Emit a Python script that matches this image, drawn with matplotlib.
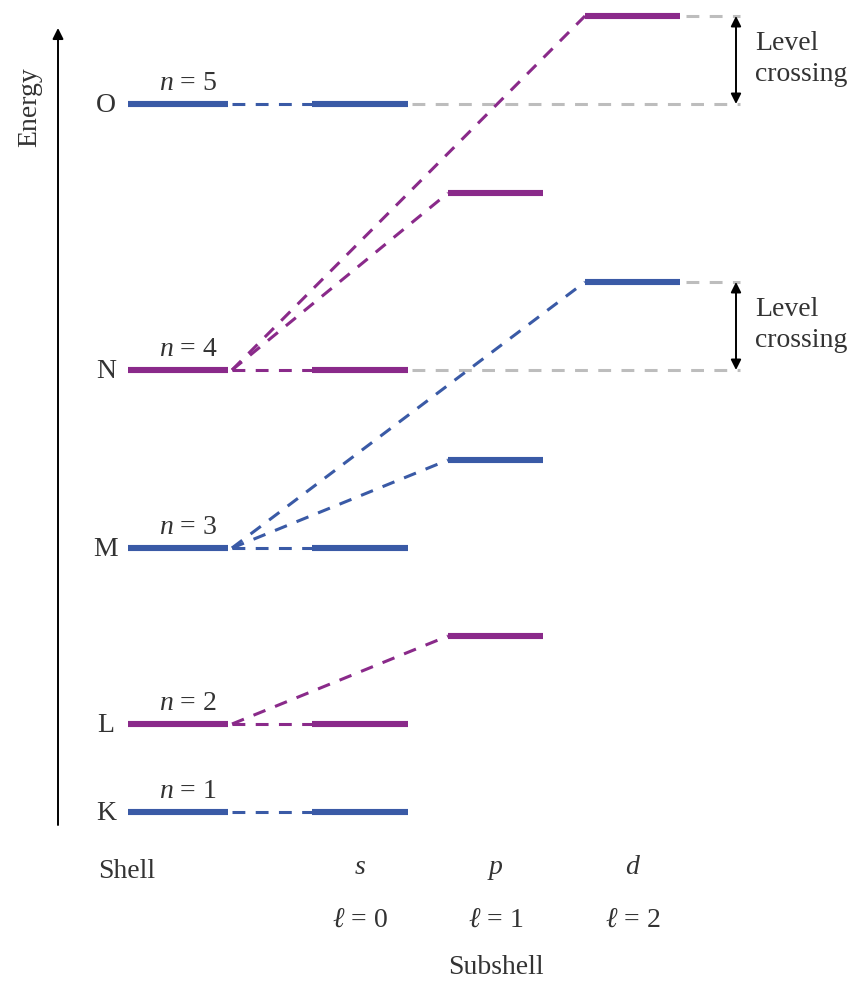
import matplotlib
matplotlib.use("Agg")
import matplotlib.pyplot as plt

plt.rcParams['font.family'] = ['Liberation Serif', 'DejaVu Serif']
plt.rcParams['mathtext.fontset'] = 'custom'
plt.rcParams['mathtext.rm'] = 'Liberation Serif'
plt.rcParams['mathtext.it'] = 'Liberation Serif:italic'
plt.rcParams['mathtext.bf'] = 'Liberation Serif:bold'

# ---- data (energy in arbitrary units) ----
shell_letters = ["K", "L", "M", "N", "O"]
shell_n = [1, 2, 3, 4, 5]
shell_energy = [0, 88, 264, 442, 708]          # s-level == shell energy
p_energy = {2: 176, 3: 352, 4: 619}            # n -> p subshell energy
d_energy = {3: 530, 4: 796}                    # n -> d subshell energy
shell_colors = ["#3a5aa6", "#8a2a8a", "#3a5aa6", "#8a2a8a", "#3a5aa6"]
subshell_names = ["s", "p", "d"]
ell_values = [0, 1, 2]
cross_pairs = [(708, 796), (442, 530)]  # (lower, upper) energies for level crossing

# ---- layout ----
W, H = 859, 981
fig = plt.figure(figsize=(W / 100, H / 100), dpi=100)
ax = fig.add_axes([0, 0, 1, 1])
ax.set_xlim(0, W)
ax.set_ylim(812 - H, 812)
ax.axis("off")

shell_x = (128, 228)
col_x = {"s": (312, 408), "p": (448, 543), "d": (585, 680)}
conv_x = 232
gray_end = 740
gray = "#bdbdbd"
tc = "#333333"
fs = 20
lw_level = 4.4
lw_dash = 2.2
dash = (0, (4.2, 3.4))

def level(x, y, c):
    ax.plot(x, [y, y], color=c, lw=lw_level, solid_capstyle="butt", zorder=3)

def dline(x0, y0, x1, y1, c):
    ax.plot([x0, x1], [y0, y1], color=c, lw=lw_dash, linestyle=dash,
            dash_capstyle="butt", zorder=2)

for letter, n, E, c in zip(shell_letters, shell_n, shell_energy, shell_colors):
    level(shell_x, E, c)
    level(col_x["s"], E, c)
    dline(conv_x, E, col_x["s"][0], E, c)
    ax.text(106, E - 1, letter, ha="center", va="center", fontsize=fs, color=tc)
    ax.text(188, E + 20, f"$\\it{{n}}$ = {n}", ha="center", va="center",
            fontsize=fs, color=tc)
    if n in p_energy:
        level(col_x["p"], p_energy[n], c)
        dline(conv_x, E, col_x["p"][0], p_energy[n], c)
    if n in d_energy:
        level(col_x["d"], d_energy[n], c)
        dline(conv_x, E, col_x["d"][0], d_energy[n], c)

# gray guide lines + level-crossing arrows
for lo, hi in cross_pairs:
    ax.plot([col_x["s"][1] + 4, gray_end], [lo, lo], color=gray, lw=lw_dash,
            linestyle=dash, zorder=1)
    ax.plot([col_x["d"][1] + 6, gray_end], [hi, hi], color=gray, lw=lw_dash,
            linestyle=dash, zorder=1)
    ax.annotate("", xy=(736, hi), xytext=(736, lo),
                arrowprops=dict(arrowstyle="<|-|>", color="black", lw=1.4,
                                mutation_scale=15, shrinkA=0, shrinkB=0))
    ax.text(755, (lo + hi) / 2 + 1, "Level\ncrossing", ha="left", va="center",
            fontsize=fs, color=tc, linespacing=1.35)

# energy axis
ax.annotate("", xy=(58, 812 - 28), xytext=(58, 812 - 825),
            arrowprops=dict(arrowstyle="-|>", color="black", lw=1.4,
                            mutation_scale=16, shrinkA=0, shrinkB=0))
ax.text(30, 812 - 107, "Energy", rotation=90, ha="center", va="center",
        fontsize=fs, color=tc)

# bottom labels
ax.text(127, 812 - 871, "Shell", ha="center", va="center", fontsize=fs, color=tc)
for name, ell, key in zip(subshell_names, ell_values, ["s", "p", "d"]):
    cx = sum(col_x[key]) / 2
    ax.text(cx, 812 - 868, name, ha="center", va="center", fontsize=fs,
            style="italic", color=tc)
    ax.text(cx, 812 - 920, f"$\\ell$ = {ell}", ha="center", va="center",
            fontsize=fs, color=tc)
ax.text(sum(col_x["p"]) / 2, 812 - 968, "Subshell", ha="center", va="center",
        fontsize=fs, color=tc)

fig.savefig("out.png", dpi=100)
